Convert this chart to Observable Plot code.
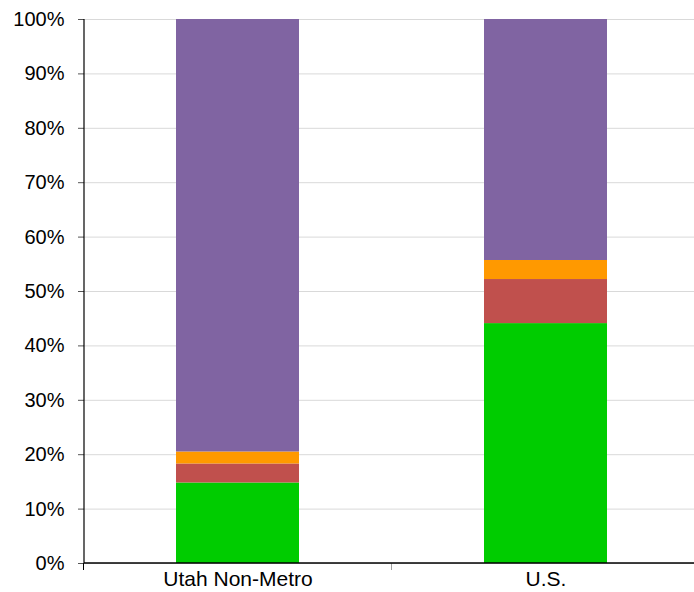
<!DOCTYPE html>
<html><head><meta charset="utf-8">
<script src="https://cdn.jsdelivr.net/npm/d3@7"></script>
<script src="https://cdn.jsdelivr.net/npm/@observablehq/plot@0.6"></script>
<style>
body{margin:0;background:#fff;overflow:hidden}
svg{display:block;overflow:hidden}
</style>
</head><body><div id="chart"></div>
<script>
const categories = ["Utah Non-Metro", "U.S."];
const seriesNames = ["Series 1", "Series 2", "Series 3", "Series 4"];
const seriesColors = ["#00cc00", "#c0504d", "#ff9900", "#8064a2"];
const series1 = [14.8, 44.1];
const series2 = [3.5, 8.1];
const series3 = [2.2, 3.5];
const series4 = [79.5, 44.3];
const yTicks = [0, 10, 20, 30, 40, 50, 60, 70, 80, 90, 100];
const yTickLabels = ["0%", "10%", "20%", "30%", "40%", "50%", "60%", "70%", "80%", "90%", "100%"];

const seriesValues = [series1, series2, series3, series4];
const rows = [];
seriesNames.forEach((s, si) => {
  categories.forEach((c, ci) => rows.push({category: c, series: s, value: seriesValues[si][ci]}));
});

const padInner = 0.6;

function axisFrame(index, scales, values, dimensions) {
  const {x, y} = scales;
  const g = d3.create("svg:g");
  const bw = x.bandwidth();
  const step = x.step();
  const gap = (step - bw) / 2;
  const bounds = categories.map(c => x(c) - gap);
  bounds.push(x(categories[categories.length - 1]) + bw + gap);
  const y0 = y(0);
  // boundary ticks below the x axis
  bounds.forEach((bx, i) => {
    g.append("line")
      .attr("x1", bx).attr("x2", bx)
      .attr("y1", y0).attr("y2", y0 + 7)
      .attr("stroke", i === 0 ? "#000" : "#a0a0a0")
      .attr("stroke-width", 1);
  });
  // left axis line
  g.append("line")
    .attr("x1", dimensions.marginLeft).attr("x2", dimensions.marginLeft)
    .attr("y1", y(100)).attr("y2", y0)
    .attr("stroke", "#000").attr("stroke-width", 1.2);
  // bottom axis line
  g.append("line")
    .attr("x1", dimensions.marginLeft).attr("x2", dimensions.width - dimensions.marginRight)
    .attr("y1", y0).attr("y2", y0)
    .attr("stroke", "#000").attr("stroke-width", 1.5);
  return g.node();
}

const chart = Plot.plot({
  width: 694,
  height: 592,
  marginLeft: 84,
  marginRight: -6,
  marginTop: 19,
  marginBottom: 29,
  style: {fontFamily: "'Liberation Sans', Arial, sans-serif", color: "#000", background: "#fff"},
  x: {domain: categories, paddingInner: padInner, paddingOuter: padInner / 2},
  y: {domain: [0, 100]},
  color: {domain: seriesNames, range: seriesColors},
  marks: [
    Plot.gridY(yTicks, {stroke: "#d9d9d9", strokeOpacity: 1, strokeWidth: 1}),
    Plot.barY(rows, {x: "category", y: "value", fill: "series", order: seriesNames}),
    Plot.axisY({ticks: yTicks, tickFormat: (d, i) => yTickLabels[yTicks.indexOf(d)], tickSize: 6, tickPadding: 14, fontSize: 20, stroke: "#555", label: null}),
    Plot.axisX({tickSize: 0, tickPadding: 8, fontSize: 21, label: null}),
    axisFrame
  ]
});
document.getElementById("chart").appendChild(chart);
</script>
</body></html>
